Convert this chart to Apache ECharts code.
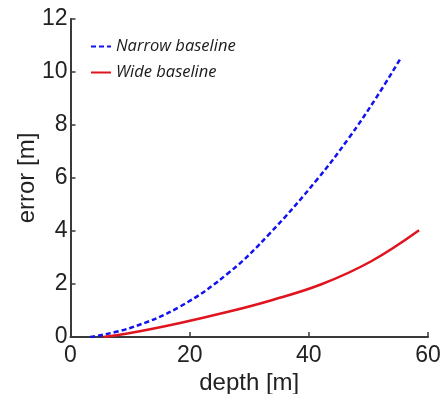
<!DOCTYPE html>
<html><head><meta charset="utf-8">
<script src="https://cdn.jsdelivr.net/npm/echarts@6/dist/echarts.min.js"></script>
<style>html,body{margin:0;padding:0;background:#fff}#c{width:442px;height:394px}</style>
</head><body><div id="c"></div>
<script>
var xTicks = [0, 20, 40, 60];
var yTicks = [0, 2, 4, 6, 8, 10, 12];
var seriesNames = ['Narrow baseline', 'Wide baseline'];
var narrowX = [3.3, 10, 18.4, 26.8, 33.5, 41.3, 46.75, 51.4, 55.5];
var narrowY = [0, 0.34, 1.15, 2.47, 3.92, 5.92, 7.52, 9.06, 10.55];
var wideX = [5.5, 10, 18.4, 26.8, 33.6, 42, 50.4, 58.5];
var wideY = [0, 0.15, 0.53, 0.97, 1.38, 1.98, 2.85, 4.03];

function pairs(xs, ys){ return xs.map(function(x,i){ return [x, ys[i]]; }); }

var axisColor = '#3a3a3a';
var chart = echarts.init(document.getElementById('c'));
chart.setOption({
  animation: false,
  backgroundColor: '#fff',
  grid: { left: 70.5, right: 14, top: 19, bottom: 57, containLabel: false, outerBoundsMode: 'none' },
  legend: {
    orient: 'vertical', left: 85, top: 33, itemGap: 9,
    itemWidth: 20, itemHeight: 14,
    itemStyle: { opacity: 0 },
    textStyle: { fontFamily: 'Open Sans', fontStyle: 'italic', fontSize: 16.5, lineHeight: 14, color: '#1a1a1a' },
    data: seriesNames
  },
  xAxis: {
    type: 'value', min: xTicks[0], max: xTicks[xTicks.length-1], interval: 20,
    name: 'depth [m]', nameLocation: 'middle', nameGap: 34, nameMoveOverlap: false,
    nameTextStyle: { fontFamily: 'Liberation Sans', fontSize: 24, color: '#222' },
    axisLine: { show: true, lineStyle: { color: axisColor, width: 2 } },
    axisTick: { show: true, inside: true, length: 5, lineStyle: { color: axisColor, width: 1.5 } },
    axisLabel: { margin: 7, fontFamily: 'Liberation Sans', fontSize: 23, color: '#222' },
    splitLine: { show: false }
  },
  yAxis: {
    type: 'value', min: yTicks[0], max: yTicks[yTicks.length-1], interval: 2,
    name: 'error [m]', nameLocation: 'middle', nameGap: 31, nameRotate: 90, nameMoveOverlap: false,
    nameTextStyle: { fontFamily: 'Liberation Sans', fontSize: 24, color: '#222' },
    axisLine: { show: true, lineStyle: { color: axisColor, width: 2 } },
    axisTick: { show: true, inside: true, length: 5, lineStyle: { color: axisColor, width: 1.5 } },
    axisLabel: { margin: 3, fontFamily: 'Liberation Sans', fontSize: 23, color: '#222' },
    splitLine: { show: false }
  },
  series: [
    { name: seriesNames[0], type: 'line', smooth: 0.4, symbol: 'none', showSymbol: false,
      data: pairs(narrowX, narrowY), color: '#1212f0',
      lineStyle: { color: '#1212f0', width: 2.5, type: [5, 3] } },
    { name: seriesNames[1], type: 'line', smooth: 0.4, symbol: 'none', showSymbol: false,
      data: pairs(wideX, wideY), color: '#e0141e',
      lineStyle: { color: '#e0141e', width: 2.5 } }
  ]
});
</script></body></html>
